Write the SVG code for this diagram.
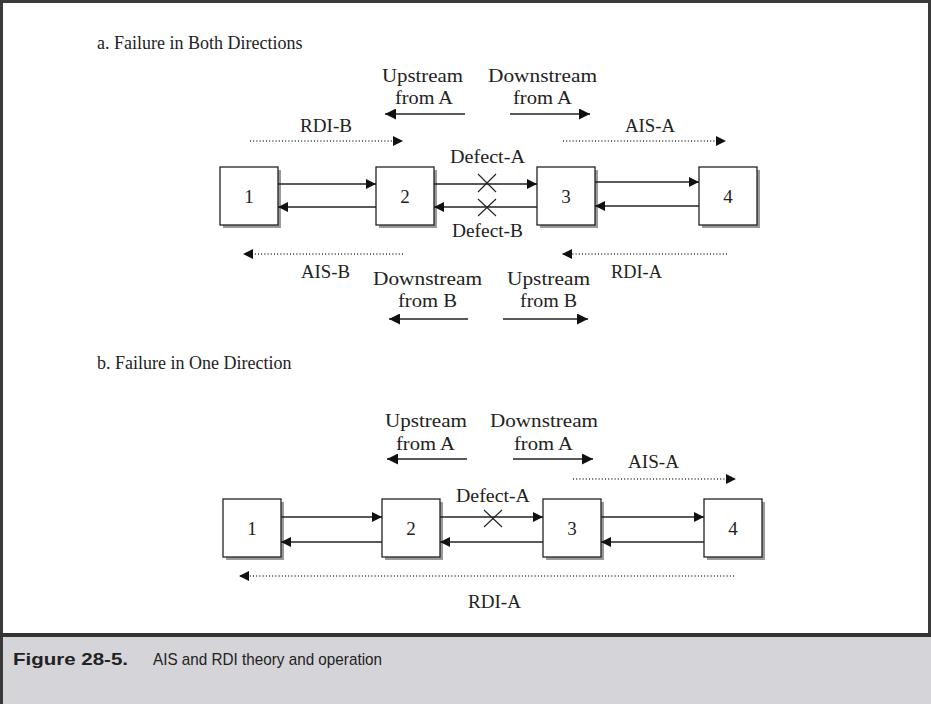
<svg xmlns="http://www.w3.org/2000/svg" width="931" height="704" viewBox="0 0 931 704">
  <style>
    .lbl { font-family: "Liberation Serif", "Times New Roman", serif; font-size: 19px; fill: #222; }
    .title { font-family: "Liberation Serif", "Times New Roman", serif; font-size: 18px; fill: #222; }
    .num { font-family: "Liberation Serif", "Times New Roman", serif; font-size: 19px; fill: #222; text-anchor: middle; }
    .box { fill: #fff; stroke: #222; stroke-width: 1.3; }
    .shadow { fill: #9a9a9a; }
    .solid { stroke: #222; stroke-width: 1.6; fill: none; }
    .dot { stroke: #333; stroke-width: 1.4; fill: none; stroke-dasharray: 1 2.2; }
    .cross { stroke: #222; stroke-width: 1.1; fill: none; }
    .cap { font-family: "Liberation Sans Narrow", "Liberation Sans", Arial, sans-serif; font-size: 17px; fill: #222; }
  </style>
  <defs>
    <marker id="head" viewBox="0 0 10 10" refX="10" refY="5" markerWidth="10" markerHeight="10" markerUnits="userSpaceOnUse" orient="auto">
      <path d="M0,0 L10,5 L0,10 Z" fill="#111"/>
    </marker>
    <marker id="headL" viewBox="0 0 11 11" refX="11" refY="5.5" markerWidth="11" markerHeight="11" markerUnits="userSpaceOnUse" orient="auto">
      <path d="M0,0 L11,5.5 L0,11 Z" fill="#111"/>
    </marker>
  </defs>

  <!-- page frame and caption band -->
  <rect x="0" y="0" width="931" height="704" fill="#fff"/>
  <rect x="0" y="637" width="931" height="67" fill="#d4d4d9"/>
  <line x1="0" y1="1.5" x2="931" y2="1.5" stroke="#3a3a3a" stroke-width="3"/>
  <line x1="1.5" y1="0" x2="1.5" y2="704" stroke="#3a3a3a" stroke-width="3"/>
  <line x1="929.5" y1="0" x2="929.5" y2="636" stroke="#3a3a3a" stroke-width="3"/>
  <line x1="0" y1="635" x2="931" y2="635" stroke="#333" stroke-width="4"/>
  <text class="cap" x="13" y="665" font-weight="bold" textLength="115" lengthAdjust="spacingAndGlyphs">Figure 28-5.</text>
  <text class="cap" x="153" y="665" textLength="229" lengthAdjust="spacingAndGlyphs">AIS and RDI theory and operation</text>

  <!-- ===== a. Failure in Both Directions ===== -->
  <text class="title" x="97" y="49">a.  Failure in Both Directions</text>

  <g id="a-labels">
    <text class="lbl" x="382" y="82" textLength="81" lengthAdjust="spacingAndGlyphs">Upstream</text>
    <text class="lbl" x="395" y="104" textLength="58" lengthAdjust="spacingAndGlyphs">from A</text>
    <text class="lbl" x="488" y="82" textLength="109" lengthAdjust="spacingAndGlyphs">Downstream</text>
    <text class="lbl" x="513" y="104" textLength="59" lengthAdjust="spacingAndGlyphs">from A</text>
    <text class="lbl" x="300" y="132" textLength="52" lengthAdjust="spacingAndGlyphs">RDI-B</text>
    <text class="lbl" x="625" y="132" textLength="50" lengthAdjust="spacingAndGlyphs">AIS-A</text>
    <text class="lbl" x="450" y="163" textLength="75" lengthAdjust="spacingAndGlyphs">Defect-A</text>
    <text class="lbl" x="452" y="237" textLength="71" lengthAdjust="spacingAndGlyphs">Defect-B</text>
    <text class="lbl" x="301" y="278" textLength="49" lengthAdjust="spacingAndGlyphs">AIS-B</text>
    <text class="lbl" x="611" y="278" textLength="51" lengthAdjust="spacingAndGlyphs">RDI-A</text>
    <text class="lbl" x="373" y="285" textLength="109" lengthAdjust="spacingAndGlyphs">Downstream</text>
    <text class="lbl" x="398" y="307" textLength="59" lengthAdjust="spacingAndGlyphs">from B</text>
    <text class="lbl" x="507" y="285" textLength="83" lengthAdjust="spacingAndGlyphs">Upstream</text>
    <text class="lbl" x="520" y="307" textLength="57" lengthAdjust="spacingAndGlyphs">from B</text>
  </g>

  <g id="a-node1">
    <rect class="shadow" x="223" y="170" width="58" height="58"/>
    <rect class="box" x="220" y="167" width="58" height="58"/>
    <text class="num" x="249" y="203">1</text>
  </g>
  <g id="a-node2">
    <rect class="shadow" x="379" y="170" width="58" height="58"/>
    <rect class="box" x="376" y="167" width="58" height="58"/>
    <text class="num" x="405" y="203">2</text>
  </g>
  <g id="a-node3">
    <rect class="shadow" x="540" y="170" width="58" height="58"/>
    <rect class="box" x="537" y="167" width="58" height="58"/>
    <text class="num" x="566" y="203">3</text>
  </g>
  <g id="a-node4">
    <rect class="shadow" x="702" y="170" width="58" height="58"/>
    <rect class="box" x="699" y="167" width="58" height="58"/>
    <text class="num" x="728" y="203">4</text>
  </g>

  <g id="a-connectors">
    <!-- direction indicators -->
    <line class="solid" x1="465" y1="114" x2="385" y2="114" marker-end="url(#headL)"/>
    <line class="solid" x1="510" y1="114" x2="590" y2="114" marker-end="url(#headL)"/>
    <line class="solid" x1="468" y1="319" x2="389" y2="319" marker-end="url(#headL)"/>
    <line class="solid" x1="503" y1="319" x2="588" y2="319" marker-end="url(#headL)"/>
    <!-- RDI / AIS signals -->
    <line class="dot" x1="250" y1="141" x2="403" y2="141" marker-end="url(#head)"/>
    <line class="dot" x1="563" y1="141" x2="726" y2="141" marker-end="url(#head)"/>
    <line class="dot" x1="403" y1="254" x2="243" y2="254" marker-end="url(#head)"/>
    <line class="dot" x1="727" y1="254" x2="562" y2="254" marker-end="url(#head)"/>
    <!-- links between nodes -->
    <line class="solid" x1="278" y1="184" x2="376" y2="184" marker-end="url(#head)"/>
    <line class="solid" x1="376" y1="207" x2="278" y2="207" marker-end="url(#head)"/>
    <line class="solid" x1="434" y1="184" x2="537" y2="184" marker-end="url(#head)"/>
    <line class="solid" x1="537" y1="207" x2="434" y2="207" marker-end="url(#head)"/>
    <line class="solid" x1="595" y1="182" x2="699" y2="182" marker-end="url(#head)"/>
    <line class="solid" x1="699" y1="206" x2="595" y2="206" marker-end="url(#head)"/>
    <!-- defects -->
    <path class="cross" d="M478,174 L496,192 M496,174 L478,192"/>
    <path class="cross" d="M478,199 L496,216 M496,199 L478,216"/>
  </g>

  <!-- ===== b. Failure in One Direction ===== -->
  <text class="title" x="97" y="369">b.  Failure in One Direction</text>

  <g id="b-labels">
    <text class="lbl" x="385" y="427" textLength="82" lengthAdjust="spacingAndGlyphs">Upstream</text>
    <text class="lbl" x="396" y="450" textLength="59" lengthAdjust="spacingAndGlyphs">from A</text>
    <text class="lbl" x="490" y="427" textLength="108" lengthAdjust="spacingAndGlyphs">Downstream</text>
    <text class="lbl" x="514" y="450" textLength="59" lengthAdjust="spacingAndGlyphs">from A</text>
    <text class="lbl" x="628" y="468" textLength="51" lengthAdjust="spacingAndGlyphs">AIS-A</text>
    <text class="lbl" x="456" y="502" textLength="74" lengthAdjust="spacingAndGlyphs">Defect-A</text>
    <text class="lbl" x="468" y="608" textLength="53" lengthAdjust="spacingAndGlyphs">RDI-A</text>
  </g>

  <g id="b-node1">
    <rect class="shadow" x="226" y="502" width="58" height="58"/>
    <rect class="box" x="223" y="499" width="58" height="58"/>
    <text class="num" x="252" y="535">1</text>
  </g>
  <g id="b-node2">
    <rect class="shadow" x="385" y="502" width="58" height="58"/>
    <rect class="box" x="382" y="499" width="58" height="58"/>
    <text class="num" x="411" y="535">2</text>
  </g>
  <g id="b-node3">
    <rect class="shadow" x="546" y="502" width="58" height="58"/>
    <rect class="box" x="543" y="499" width="58" height="58"/>
    <text class="num" x="572" y="535">3</text>
  </g>
  <g id="b-node4">
    <rect class="shadow" x="707" y="502" width="58" height="58"/>
    <rect class="box" x="704" y="499" width="58" height="58"/>
    <text class="num" x="733" y="535">4</text>
  </g>

  <g id="b-connectors">
    <line class="solid" x1="467" y1="459" x2="387" y2="459" marker-end="url(#headL)"/>
    <line class="solid" x1="513" y1="459" x2="593" y2="459" marker-end="url(#headL)"/>
    <line class="dot" x1="573" y1="479" x2="736" y2="479" marker-end="url(#head)"/>
    <line class="dot" x1="734" y1="576" x2="239" y2="576" marker-end="url(#head)"/>
    <line class="solid" x1="281" y1="517" x2="382" y2="517" marker-end="url(#head)"/>
    <line class="solid" x1="382" y1="542" x2="281" y2="542" marker-end="url(#head)"/>
    <line class="solid" x1="440" y1="517" x2="543" y2="517" marker-end="url(#head)"/>
    <line class="solid" x1="543" y1="542" x2="440" y2="542" marker-end="url(#head)"/>
    <line class="solid" x1="601" y1="517" x2="704" y2="517" marker-end="url(#head)"/>
    <line class="solid" x1="704" y1="542" x2="601" y2="542" marker-end="url(#head)"/>
    <path class="cross" d="M484,510 L502,527 M502,510 L484,527"/>
  </g>
</svg>
